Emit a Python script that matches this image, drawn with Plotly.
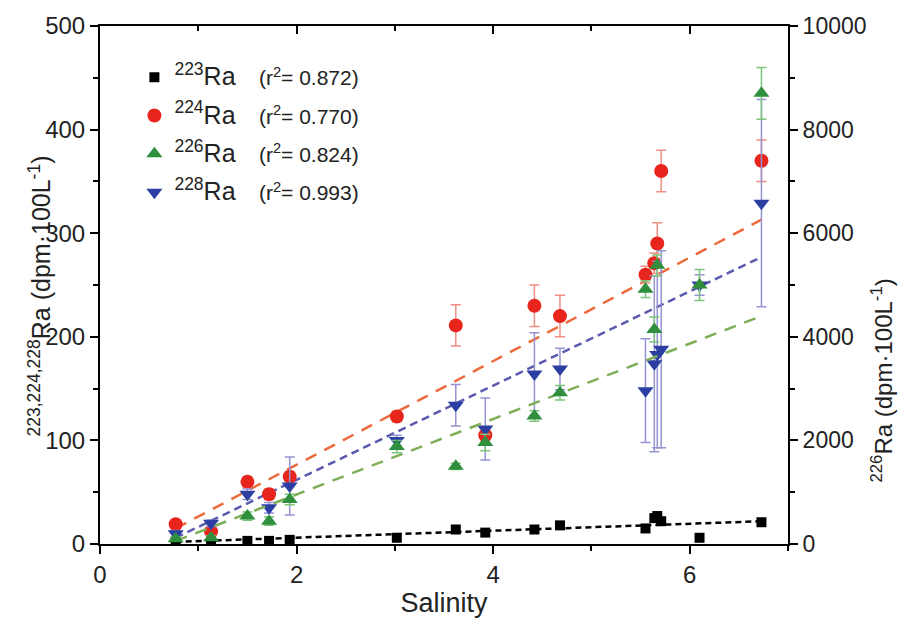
import plotly.graph_objects as go

# ---- data ----
sal_223 = [0.77, 1.13, 1.50, 1.72, 1.93, 3.02, 3.62, 3.92, 4.42, 4.68, 5.55, 5.64, 5.67, 5.71, 6.10, 6.73]
ra223 = [2, 1, 3, 3, 4, 6, 14, 11, 14, 18, 15, 25, 27, 22, 6, 21]
ra223_err = [1, 1, 1, 1, 1, 2, 2, 2, 2, 2, 2, 2, 2, 2, 1, 2]

sal_224 = [0.77, 1.13, 1.50, 1.72, 1.93, 3.02, 3.62, 3.92, 4.42, 4.68, 5.55, 5.64, 5.67, 5.71, 6.73]
ra224 = [19, 12, 60, 48, 65, 123, 211, 105, 230, 220, 260, 271, 290, 360, 370]
ra224_err = [3, 3, 5, 5, 5, 5, 20, 8, 20, 20, 8, 10, 20, 20, 20]

sal_226 = [0.77, 1.13, 1.50, 1.72, 1.93, 3.02, 3.62, 3.92, 4.42, 4.68, 5.55, 5.64, 5.67, 6.10, 6.73]
ra226 = [100, 120, 540, 440, 860, 1880, 1500, 1960, 2470, 2920, 4920, 4140, 5380, 5000, 8700]
ra226_err = [40, 40, 80, 80, 100, 120, 60, 160, 100, 140, 160, 240, 200, 300, 500]

sal_228 = [0.77, 1.13, 1.50, 1.72, 1.93, 3.02, 3.62, 3.92, 4.42, 4.68, 5.55, 5.64, 5.67, 5.71, 6.10, 6.73]
ra228 = [10, 20, 48, 35, 56, 100, 134, 111, 164, 169, 148, 174, 183, 188, 250, 329]
ra228_err = [3, 3, 5, 5, 28, 5, 20, 30, 40, 20, 50, 85, 90, 95, 10, 100]

# regression lines (end points)
fit_x = [0.77, 6.73]
fit_223 = [2, 22]
fit_224 = [15, 313]
fit_226 = [60, 4400]
fit_228 = [6, 277]

labels = ["<sup>223</sup>Ra", "<sup>224</sup>Ra", "<sup>226</sup>Ra", "<sup>228</sup>Ra"]
r2 = ["0.872", "0.770", "0.824", "0.993"]

FONT = "Liberation Sans, Arial, sans-serif"
fig = go.Figure()

def leg(i):
    return (f'<span style="font-size:25px">{labels[i]}</span>'
            + "\u00a0\u00a0\u00a0\u00a0" + f"(r<sup>2</sup>= {r2[i]})")

# fit lines
fig.add_trace(go.Scatter(x=fit_x, y=fit_224, mode="lines", showlegend=False,
                         line=dict(color="#ec6a3c", width=2.5, dash="12px,9px")))
fig.add_trace(go.Scatter(x=fit_x, y=fit_228, mode="lines", showlegend=False,
                         line=dict(color="#5a5aae", width=2.5, dash="8px,5px")))
fig.add_trace(go.Scatter(x=fit_x, y=fit_226, mode="lines", showlegend=False, yaxis="y2",
                         line=dict(color="#7fae58", width=2.5, dash="12px,9px")))
fig.add_trace(go.Scatter(x=fit_x, y=fit_223, mode="lines", showlegend=False,
                         line=dict(color="black", width=2.5, dash="6px,4px")))

# data
fig.add_trace(go.Scatter(x=sal_223, y=ra223, mode="markers", name=leg(0), legendrank=1, legendgroup="g1",
                         error_y=dict(type="data", array=ra223_err, color="#444", thickness=1.2, width=3),
                         marker=dict(symbol="square", size=10, color="black")))
fig.add_trace(go.Scatter(x=sal_224, y=ra224, mode="markers", name=leg(1), legendrank=2, legendgroup="g2",
                         error_y=dict(type="data", array=ra224_err, color="#f08f85", thickness=1.5, width=5),
                         marker=dict(symbol="circle", size=14, color="#e8251d")))
fig.add_trace(go.Scatter(x=sal_228, y=ra228, mode="markers", name=leg(3), legendrank=4, legendgroup="g4",
                         error_y=dict(type="data", array=ra228_err, color="#9494d4", thickness=1.5, width=5),
                         marker=dict(symbol="triangle-down", size=14, color="#2b3fa3")))
fig.add_trace(go.Scatter(x=sal_226, y=ra226, mode="markers", name=leg(2), legendrank=3, legendgroup="g3",
                         yaxis="y2",
                         error_y=dict(type="data", array=ra226_err, color="#7cc47c", thickness=1.5, width=5),
                         marker=dict(symbol="triangle-up", size=14, color="#2f8f3c")))

# invisible trace to carry the top axis
fig.add_trace(go.Scatter(x=[0], y=[0], xaxis="x2", mode="markers", showlegend=False,
                         marker=dict(opacity=0), hoverinfo="skip"))

axis_common = dict(showgrid=False, zeroline=False, linecolor="black", linewidth=2,
                   tickcolor="black", tickwidth=2, ticklen=8)

fig.update_layout(
    width=906, height=625,
    margin=dict(l=100, r=118, t=26, b=74),
    plot_bgcolor="white", paper_bgcolor="white",
    font=dict(family=FONT, color="#222"),
    xaxis=dict(range=[0, 7], tickvals=[0, 2, 4, 6], ticks="outside",
               tickfont=dict(size=24), minor=dict(ticks="outside", ticklen=5, dtick=1, tick0=0,
                                                  tickcolor="black", tickwidth=2),
               title=dict(text="Salinity", font=dict(size=27), standoff=6), **axis_common),
    xaxis2=dict(range=[0, 7], overlaying="x", side="top", tickvals=[0, 2, 4, 6], ticks="inside",
                showticklabels=False, minor=dict(ticks="inside", ticklen=5, dtick=1, tick0=0,
                                                 tickcolor="black", tickwidth=2), **axis_common),
    yaxis=dict(range=[0, 500], dtick=100, ticks="outside", tickfont=dict(size=24),
               minor=dict(ticks="outside", ticklen=5, dtick=50, tickcolor="black", tickwidth=2),
               **axis_common),
    yaxis2=dict(range=[0, 10000], dtick=2000, overlaying="y", side="right", ticks="outside",
                tickfont=dict(size=23), tickformat="d",
                minor=dict(ticks="outside", ticklen=5, dtick=1000, tickcolor="black", tickwidth=2),
                **axis_common),
    legend=dict(x=0.05, y=0.94, xanchor="left", yanchor="top", bgcolor="rgba(0,0,0,0)",
                font=dict(size=21, color="#222"), traceorder="grouped", tracegroupgap=8),
    annotations=[
        dict(text="<sup>223,224,228</sup>Ra (dpm·100L<sup>-1</sup>)", textangle=-90,
             xref="paper", yref="paper", x=-0.087, y=0.478, xanchor="center", yanchor="middle",
             showarrow=False, font=dict(size=25, color="#222")),
        dict(text="<sup>226</sup>Ra (dpm·100L<sup>-1</sup>)", textangle=-90,
             xref="paper", yref="paper", x=1.137, y=0.316, xanchor="center", yanchor="middle",
             showarrow=False, font=dict(size=24, color="#222")),
    ],
)

fig.write_html("out.html")
